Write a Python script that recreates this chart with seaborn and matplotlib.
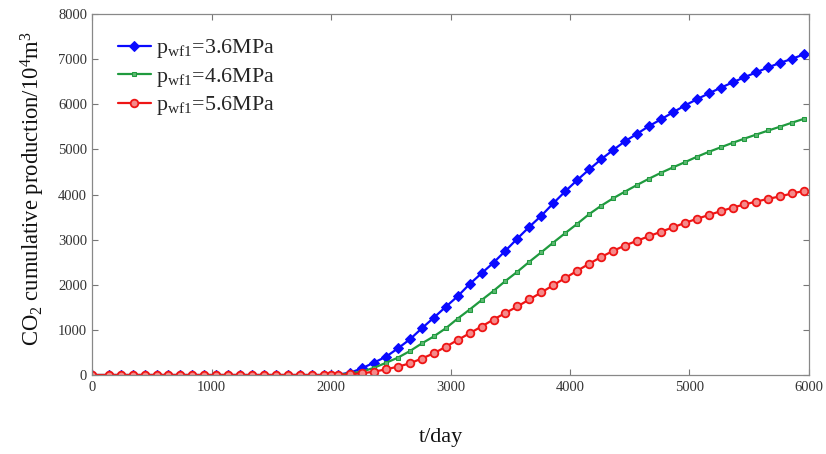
import matplotlib
matplotlib.use("Agg")
import matplotlib.pyplot as plt
import seaborn as sns
import pandas as pd

# Simulation time (days)
days = [0, 140, 240, 340, 440, 540, 640, 740, 840, 940, 1040, 1140, 1240, 1340,
        1440, 1540, 1640, 1740, 1840, 1940, 2000,
        2060, 2160, 2260, 2360, 2460, 2560, 2660, 2760, 2860, 2960,
        3060, 3160, 3260, 3360, 3460, 3560, 3660, 3760, 3860, 3960,
        4060, 4160, 4260, 4360, 4460, 4560, 4660, 4760, 4860, 4960,
        5060, 5160, 5260, 5360, 5460, 5560, 5660, 5760, 5860, 5960]

pre = [0] * 21

# CO2 cumulative production (10^4 m^3) for three bottom-hole pressures
prod_36 = pre + [10, 50, 150, 275, 405, 590, 790, 1035, 1270, 1510,
                 1745, 2015, 2255, 2490, 2755, 3025, 3285, 3530, 3805, 4070,
                 4320, 4555, 4780, 4985, 5180, 5345, 5515, 5665, 5820, 5970,
                 6110, 6240, 6365, 6485, 6600, 6710, 6820, 6920, 7010, 7110]
prod_46 = pre + [5, 38, 75, 160, 270, 385, 530, 700, 855, 1035,
                 1250, 1450, 1660, 1865, 2085, 2290, 2510, 2720, 2935, 3145,
                 3350, 3565, 3750, 3915, 4065, 4210, 4350, 4480, 4600, 4715,
                 4835, 4945, 5045, 5145, 5240, 5330, 5420, 5505, 5595, 5680]
prod_56 = pre + [0, 15, 38, 73, 126, 184, 259, 365, 480, 625,
                 775, 925, 1075, 1230, 1375, 1520, 1675, 1830, 1990, 2150,
                 2310, 2465, 2615, 2750, 2870, 2975, 3075, 3175, 3270, 3370,
                 3460, 3545, 3630, 3710, 3780, 3845, 3905, 3960, 4025, 4080]

labels = [r"p$_{\mathrm{wf1}}$=3.6MPa", r"p$_{\mathrm{wf1}}$=4.6MPa", r"p$_{\mathrm{wf1}}$=5.6MPa"]
x_ticks = [0, 1000, 2000, 3000, 4000, 5000, 6000]
y_ticks = [0, 1000, 2000, 3000, 4000, 5000, 6000, 7000, 8000]

sns.set_theme(style="white")
plt.rcParams["font.family"] = ["Liberation Serif", "DejaVu Serif"]
plt.rcParams["mathtext.fontset"] = "custom"
plt.rcParams["mathtext.rm"] = "Liberation Serif"
plt.rcParams["mathtext.it"] = "Liberation Serif:italic"

fig = plt.figure(figsize=(8.26, 4.54), dpi=100)
ax = fig.add_axes([0.1114, 0.174, 0.868, 0.795])

styles = [
    dict(color="#0a0aff", marker="D", markersize=5.5, markerfacecolor="#0a0aff",
         markeredgecolor="#0a0aff"),
    dict(color="#1f9a3e", marker="s", markersize=3.5, markerfacecolor="#5cb870",
         markeredgecolor="#1f9a3e"),
    dict(color="#ee1515", marker="o", markersize=5.5, markerfacecolor="#f58a8a",
         markeredgecolor="#ee1515", markeredgewidth=1.3),
]

for vals, lab, st in zip([prod_36, prod_46, prod_56], labels, styles):
    df = pd.DataFrame({"t": days, "q": vals})
    sns.lineplot(data=df, x="t", y="q", ax=ax, label=lab, linewidth=1.6, **st)

ax.set_xlim(0, 6000)
ax.set_ylim(0, 8000)
ax.set_xticks(x_ticks)
ax.set_yticks(y_ticks)
ax.tick_params(direction="in", length=4, width=0.8, colors="#777777",
               labelcolor="#333333", labelsize=10.5, top=True, right=True,
               bottom=True, left=True, labeltop=False, labelright=False)
ax.tick_params(axis="x", pad=4)
for sp in ax.spines.values():
    sp.set_color("#888888")
    sp.set_linewidth(0.9)

ax.set_xlabel("t/day", fontsize=16, color="#111111")
ax.xaxis.set_label_coords(0.487, -0.148)
ax.set_ylabel(r"CO$_2$ cumulative production/10$^4$m$^3$", fontsize=16.3,
              color="#111111")
ax.yaxis.set_label_coords(-0.063, 0.515)

leg = ax.legend(loc="upper left", bbox_to_anchor=(0.03, 0.948), frameon=False,
                fontsize=15.8, handlelength=1.5, handletextpad=0.25, labelspacing=0.25,
                borderaxespad=0.0, borderpad=0.2)

fig.savefig("out.png", dpi=100)
